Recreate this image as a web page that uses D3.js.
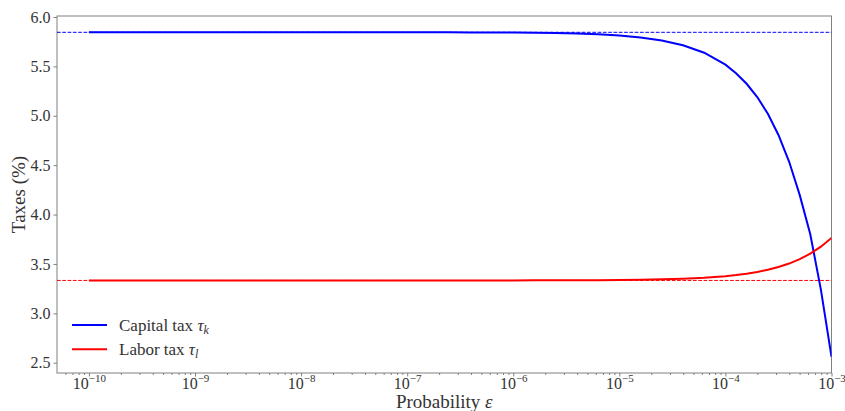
<!DOCTYPE html>
<html>
<head>
<meta charset="utf-8">
<script src="https://cdn.jsdelivr.net/npm/d3@7"></script>
<style>
	body{margin:0;background:#fff;}
	text{font-family:"Liberation Serif","DejaVu Serif",serif;fill:#333;}
</style>
</head>
<body>
<svg id="lien" width="845" height="411"></svg>
<script>
/*
	Impuestos segun la probabilidad epsilon
*/

// exponentes de epsilon (log10)
var logEps = [-10,-9.8,-9.6,-9.4,-9.2,-9,-8.8,-8.6,-8.4,-8.2,-8,-7.8,-7.6,-7.4,-7.2,-7,-6.8,-6.6,-6.4,-6.2,
	-6,-5.8,-5.6,-5.4,-5.2,-5,-4.8,-4.6,-4.4,-4.2,-4,-3.9,-3.8,-3.7,-3.6,-3.5,-3.4,-3.3,-3.2,-3.1,-3];
// impuesto al capital tau_k (%)
var capital = [5.845,5.845,5.845,5.845,5.845,5.845,5.845,5.845,5.845,5.845,5.845,5.845,5.845,5.845,5.845,5.845,5.845,5.845,5.844,5.843,
	5.842,5.840,5.837,5.832,5.824,5.812,5.793,5.762,5.714,5.638,5.517,5.431,5.324,5.190,5.020,4.806,4.537,4.199,3.800,3.240,2.560];
// impuesto al trabajo tau_l (%)
var trabajo = [3.333,3.333,3.333,3.333,3.333,3.333,3.333,3.333,3.333,3.333,3.333,3.333,3.333,3.333,3.333,3.333,3.333,3.333,3.333,3.333,
	3.333,3.334,3.334,3.335,3.336,3.337,3.340,3.344,3.350,3.360,3.376,3.387,3.401,3.419,3.441,3.469,3.504,3.549,3.604,3.675,3.763];
// valores sin riesgo (lineas discontinuas)
var base = [5.845,3.333];
var colores = ["#0000ff","#ff0000"];
var yTicks = [2.5,3.0,3.5,4.0,4.5,5.0,5.5,6.0];
var xExp = [-10,-9,-8,-7,-6,-5,-4,-3];

function init(){
	var lien = d3.select('#lien');
	var L=57, R=831.5, T=16, B=373;

	var x = d3.scaleLog().domain([5e-11,1e-3]).range([L,R]);
	var y = d3.scaleLinear().domain([2.396,6.01]).range([B,T]);

	lien.append("clipPath").attr("id","clip")
		.append("rect").attr("x",L).attr("y",T).attr("width",R-L).attr("height",B-T);

	// minor ticks
	var minor=[];
	for (var e = -11; e <= -4; e++) {
		for (var m = 2; m <= 9; m++) {
			var v = m*Math.pow(10,e);
			if (v>=5e-11 && v<=1e-3) minor.push(v);
		}
	}
	var gx = lien.append("g").attr("transform","translate(0,"+B+")");
	gx.call(d3.axisBottom(x).tickValues(minor).tickSize(2).tickFormat(""));
	var gxM = lien.append("g").attr("transform","translate(0,"+B+")");
	gxM.call(d3.axisBottom(x).tickValues(xExp.map(function(d){return Math.pow(10,d);})).tickSize(3.5).tickPadding(3).tickFormat(""));
	gxM.selectAll(".tick").each(function(d,i){
		var t = d3.select(this).append("text").attr("y",16).attr("text-anchor","middle")
			.style("font-size","16px");
		t.append("tspan").text("10");
		t.append("tspan").attr("dy",-7).style("font-size","11px").text("\u2212"+(-xExp[i]));
	});

	var gy = lien.append("g").attr("transform","translate("+L+",0)");
	gy.call(d3.axisLeft(y).tickValues(yTicks).tickSize(3.5).tickPadding(3).tickFormat(d3.format(".1f")));
	gy.selectAll("text").style("font-size","16px");

	lien.selectAll(".domain").remove();
	lien.selectAll(".tick line").attr("stroke","#808080");

	// marco
	lien.append("rect").attr("x",L).attr("y",T).attr("width",R-L).attr("height",B-T)
		.attr("fill","none").attr("stroke","#808080").attr("stroke-width",1);

	var plot = lien.append("g").attr("clip-path","url(#clip)");

	plot.selectAll(".base").data(base).enter().append("line")
		.attr("x1",L).attr("x2",R)
		.attr("y1",function(d){return y(d);}).attr("y2",function(d){return y(d);})
		.attr("stroke",function(d,i){return colores[i];})
		.attr("stroke-width",1)
		.attr("stroke-dasharray","3.7,1.6");

	var linea = d3.line()
		.x(function(d){return x(Math.pow(10,d[0]));})
		.y(function(d){return y(d[1]);});
	var series = [capital,trabajo];
	series.forEach(function(s,k){
		plot.append("path")
			.attr("d",linea(logEps.map(function(e,i){return [e,s[i]];})))
			.attr("fill","none")
			.attr("stroke",colores[k])
			.attr("stroke-width",2);
	});

	// leyenda
	var nombres = [["Capital tax ","k"],["Labor tax ","l"]];
	for (var i = 0; i < 2; i++) {
		var ly = 325+24.3*i;
		lien.append("line").attr("x1",72).attr("x2",107).attr("y1",ly).attr("y2",ly)
			.attr("stroke",colores[i]).attr("stroke-width",2);
		var t = lien.append("text").attr("x",119).attr("y",ly+5.5).style("font-size","17px");
		t.append("tspan").text(nombres[i][0]);
		t.append("tspan").style("font-style","italic").text("\u03c4");
		t.append("tspan").attr("dy",3.5).style("font-size","12px").style("font-style","italic").text(nombres[i][1]);
	}

	// etiquetas de ejes
	lien.append("text").attr("x",(L+R)/2).attr("y",408).attr("text-anchor","middle")
		.style("font-size","19px")
		.text("Probability ").append("tspan").style("font-style","italic").text("\u03b5");
	lien.append("text").attr("transform","translate(25,"+((T+B)/2)+") rotate(-90)")
		.attr("text-anchor","middle").style("font-size","19px").text("Taxes (%)");
}
init();
</script>
</body>
</html>
